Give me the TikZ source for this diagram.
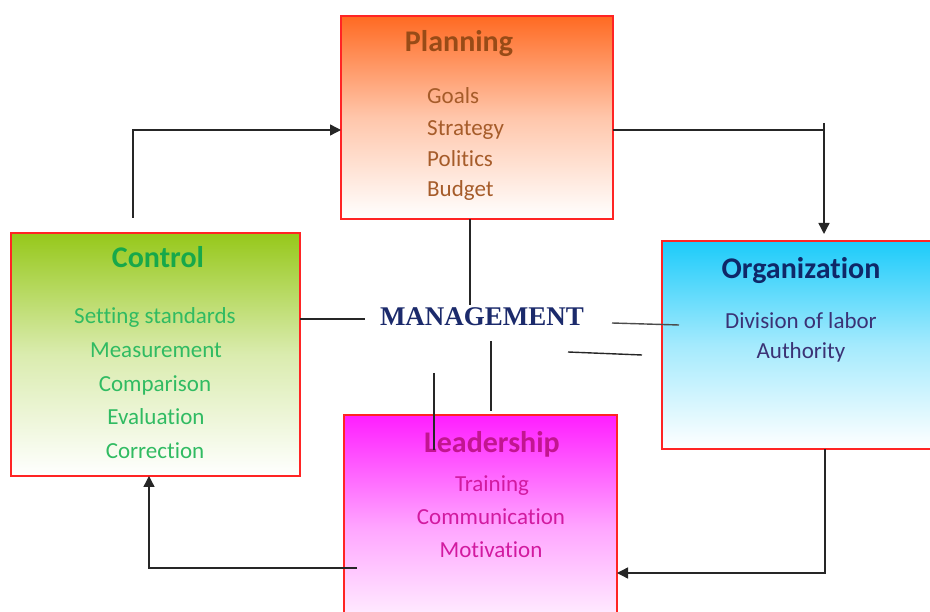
\documentclass[tikz,border=0pt]{standalone}
\usepackage{fontspec}
\setmainfont{Carlito}[Ligatures=NoCommon]
\newfontfamily\mgfont{Liberation Serif}
\usetikzlibrary{arrows.meta}
\definecolor{boxred}{HTML}{FF2424}
\definecolor{plantop}{HTML}{FF6A22}
\definecolor{ctrltop}{HTML}{96C81A}
\definecolor{orgtop}{HTML}{1CCBFA}
\definecolor{leadtop}{HTML}{FF1EFF}
\definecolor{plantitle}{HTML}{984B17}
\definecolor{planitem}{HTML}{A65C2A}
\definecolor{ctrltitle}{HTML}{17A84A}
\definecolor{ctrlitem}{HTML}{30BB62}
\definecolor{orgtitle}{HTML}{0F2868}
\definecolor{orgitem}{HTML}{3B3275}
\definecolor{leadtitle}{HTML}{C21590}
\definecolor{leaditem}{HTML}{D21AA0}
\definecolor{mgcol}{HTML}{1B2A6B}
\tikzset{
  panel/.style={draw=boxred, line width=1.5pt, rectangle, inner sep=0pt, outer sep=0pt},
  boxtitle/.style={inner sep=0pt, font=\bfseries\fontsize{30}{34}\selectfont},
  boxitem/.style={inner sep=0pt, font=\fontsize{23}{27}\selectfont},
  conn/.style={draw=black!85, line width=1.4pt},
  arr/.style={conn, -{Triangle[length=11pt,width=11pt]}}
}
\begin{document}
\begin{tikzpicture}[x=1pt,y=-1pt]
\useasboundingbox (0,0) rectangle (930,612);

% boxes
\node[panel, top color=plantop, bottom color=white, middle color=plantop!38!white, minimum width=272pt, minimum height=203pt] (plan) at (477,117.5) {};
\node[panel, top color=ctrltop, bottom color=white, middle color=ctrltop!35!white, minimum width=289pt, minimum height=243pt] (ctrl) at (155.5,354.5) {};
\node[panel, top color=orgtop, bottom color=white, middle color=orgtop!40!white, minimum width=269pt, minimum height=208pt] (org) at (796.5,345) {};
\node[panel, top color=leadtop, bottom color=white, middle color=leadtop!40!white, minimum width=273pt, minimum height=225pt] (lead) at (480.5,527.5) {};

% Planning texts
\node[boxtitle, text=plantitle, anchor=base] (plant) at (459,52) {Planning};
\node[boxitem, text=planitem, anchor=base west] (p1) at (427,104) {Goals};
\node[boxitem, text=planitem, anchor=base west] (p2) at (427,136) {Strategy};
\node[boxitem, text=planitem, anchor=base west] (p3) at (427,167) {Politics};
\node[boxitem, text=planitem, anchor=base west] (p4) at (427,197) {Budget};

% Control texts
\node[boxtitle, text=ctrltitle, anchor=base] (ctrlt) at (158,268) {Control};
\node[boxitem, text=ctrlitem, anchor=base] (c1) at (155,324) {Setting standards};
\node[boxitem, text=ctrlitem, anchor=base] (c2) at (156,358) {Measurement};
\node[boxitem, text=ctrlitem, anchor=base] (c3) at (155,392) {Comparison};
\node[boxitem, text=ctrlitem, anchor=base] (c4) at (156,425) {Evaluation};
\node[boxitem, text=ctrlitem, anchor=base] (c5) at (155,459) {Correction};

% Organization texts
\node[boxtitle, text=orgtitle, anchor=base] (orgt) at (801,279) {Organization};
\node[boxitem, text=orgitem, anchor=base] (o1) at (801,329) {Division of labor};
\node[boxitem, text=orgitem, anchor=base] (o2) at (801,359) {Authority};

% Leadership texts
\node[boxtitle, text=leadtitle, anchor=base] (leadt) at (492,453) {Leadership};
\node[boxitem, text=leaditem, anchor=base] (l1) at (492,491) {Training};
\node[boxitem, text=leaditem, anchor=base] (l2) at (491,525) {Communication};
\node[boxitem, text=leaditem, anchor=base] (l3) at (491,557) {Motivation};

% Management
\node[inner sep=0pt, anchor=base, text=mgcol, font=\mgfont\bfseries\fontsize{27}{30}\selectfont] (mgmt) at (482,326) {MANAGEMENT};

% helper coordinates
\coordinate (hy) at (0,130);
\coordinate (cstart) at (133,218);
\coordinate (pcorner) at (824,130);
\coordinate (ptop) at (824,123);
\coordinate (oend) at (824,234);
\coordinate (ox) at (825,0);
\coordinate (ly) at (0,573);
\coordinate (lstart) at (357,568);
\coordinate (cx) at (149,0);
\coordinate (s1) at (470,305);
\coordinate (s2) at (365,319);
\coordinate (s3a) at (612,323);
\coordinate (s3b) at (679,325);
\coordinate (s4a) at (568,352);
\coordinate (s4b) at (642,355);
\coordinate (s5a) at (491,341);
\coordinate (s5b) at (491,411);
\coordinate (s6a) at (434,373);
\coordinate (s6b) at (434,450);

% cycle connectors
\draw[arr] (cstart) |- (plan.west |- hy);
\draw[conn] (plan.east |- hy) -- (pcorner);
\draw[arr] (ptop) -- (oend);
\draw[arr] (org.south -| ox) |- (lead.east |- ly);
\draw[arr] (lstart) -| (ctrl.south -| cx);

% management spokes
\draw[conn] (plan.south -| s1) -- (s1);
\draw[conn] (ctrl.east |- s2) -- (s2);
\draw[conn, draw=black!70] (s3a) -- (s3b);
\draw[conn] (s4a) -- (s4b);
\draw[conn] (s5a) -- (s5b);
\draw[conn] (s6a) -- (s6b);
\end{tikzpicture}
\end{document}
